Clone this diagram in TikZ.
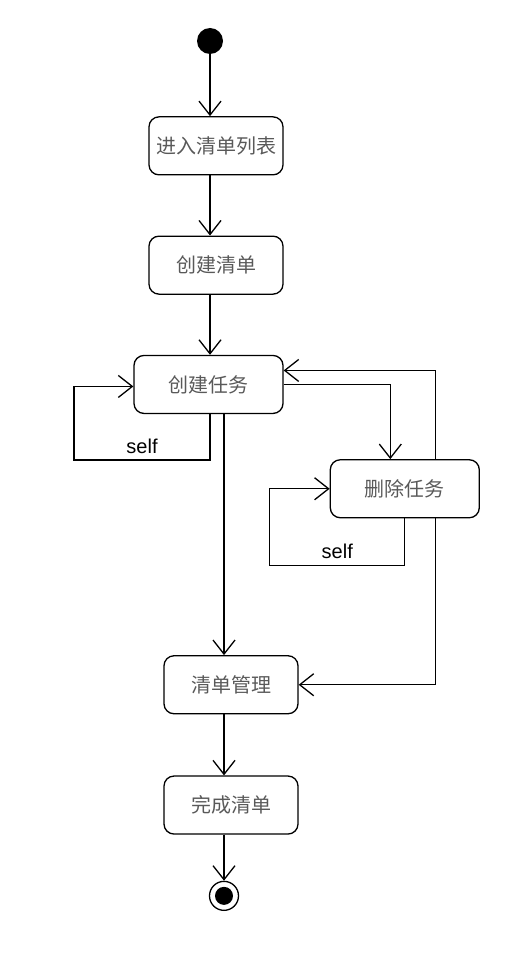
\documentclass[tikz,border=0pt]{standalone}
\usepackage{fontspec}
\newfontfamily\cjk{Noto Sans CJK SC}
\newfontfamily\latinsans{Liberation Sans}
\usetikzlibrary{positioning,arrows.meta}

\begin{document}
\begin{tikzpicture}[
  x=1pt, y=1pt,
  activity/.style={draw, line width=1.3pt, rounded corners=10pt,
    minimum width=134pt, minimum height=58pt, inner sep=0pt,
    text=black!65, font=\cjk\fontsize{20pt}{24pt}\selectfont},
  startdot/.style={circle, fill, minimum size=26pt, inner sep=0pt},
  enddot/.style={circle, draw, line width=1.3pt, minimum size=29pt, inner sep=0pt,
    path picture={\fill (path picture bounding box.center) circle (9pt);}},
  flow/.style={line width=1.3pt, -{Straight Barb[length=14pt,width=22pt]}},
  looptext/.style={above, inner sep=6pt, font=\latinsans\fontsize{20pt}{24pt}\selectfont},
  ]
  \useasboundingbox (0,0) rectangle (526,-960);
  \node[startdot] (start) at (210,-41) {};
  \node[activity, below=62pt of start, xshift=6pt] (enter) {进入清单列表};
  \node[activity, below=60pt of enter] (mklist) {创建清单};
  \node[activity, minimum width=149pt, below=60pt of mklist, xshift=-7.5pt] (mktask) {创建任务};
  \node[activity, minimum width=149pt, below right=45pt and 46pt of mktask] (deltask) {删除任务};
  \node[activity, below=241pt of mktask, xshift=22.5pt] (manage) {清单管理};
  \node[activity, below=61pt of manage] (finish) {完成清单};
  \node[enddot, below=46pt of finish, xshift=-7pt] (stop) {};
  % main column
  \draw[flow] (start) -- (enter.north -| start);
  \draw[flow] (enter.south -| start) -- (mklist.north -| start);
  \draw[flow] (mklist.south -| start) -- (mktask.north -| start);
  \draw[flow] (mktask.south -| stop) -- (manage.north -| stop);
  \draw[flow] (manage.south -| stop) -- (finish.north -| stop);
  \draw[flow] (finish.south -| stop) -- (stop);
  % self loops
  \draw[flow] (mktask.south -| start) |- ++(-136,-46) node[looptext, pos=0.75] {self}
    |- ([yshift=-2pt]mktask.west);
  \draw[flow] (deltask.south) |- ++(-135,-47) node[looptext, pos=0.75] {self}
    |- (deltask.west);
  % side branch
  \draw[flow] (mktask.east) -| ([xshift=-14.5pt]deltask.north);
  \draw[flow] ([xshift=30.5pt]deltask.north) |- ([yshift=14pt]mktask.east);
  \draw[flow] ([xshift=30.5pt]deltask.south) |- (manage.east);
\end{tikzpicture}
\end{document}
